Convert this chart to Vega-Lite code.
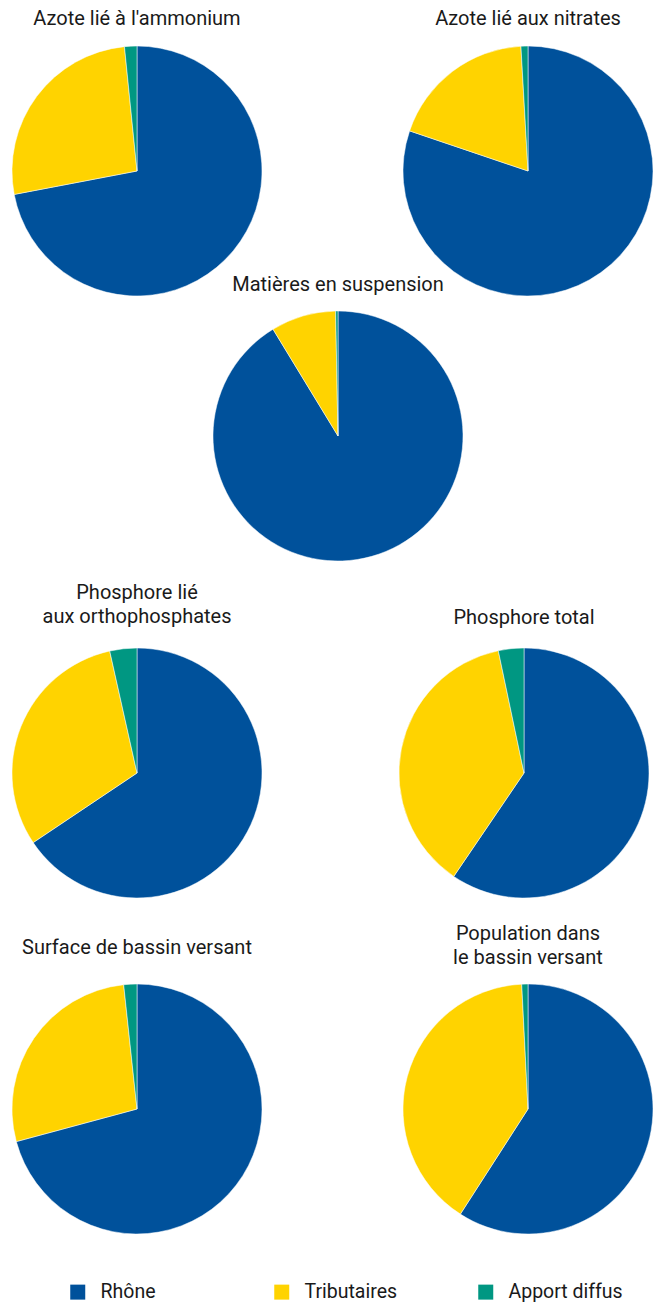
{
  "$schema": "https://vega.github.io/schema/vega-lite/v6.json",
  "padding": {"left": 11, "top": 9, "right": 0, "bottom": 0},
  "background": "white",
  "data": {"values": [
    {"indicateur": "Azote lié à l'ammonium", "source": "Rhône", "ordre": 1, "part": 72.0},
    {"indicateur": "Azote lié à l'ammonium", "source": "Tributaires", "ordre": 2, "part": 26.4},
    {"indicateur": "Azote lié à l'ammonium", "source": "Apport diffus", "ordre": 3, "part": 1.6},
    {"indicateur": "Azote lié aux nitrates", "source": "Rhône", "ordre": 1, "part": 80.2},
    {"indicateur": "Azote lié aux nitrates", "source": "Tributaires", "ordre": 2, "part": 18.9},
    {"indicateur": "Azote lié aux nitrates", "source": "Apport diffus", "ordre": 3, "part": 0.9},
    {"indicateur": "Matières en suspension", "source": "Rhône", "ordre": 1, "part": 91.3},
    {"indicateur": "Matières en suspension", "source": "Tributaires", "ordre": 2, "part": 8.4},
    {"indicateur": "Matières en suspension", "source": "Apport diffus", "ordre": 3, "part": 0.3},
    {"indicateur": "Phosphore lié aux orthophosphates", "source": "Rhône", "ordre": 1, "part": 65.6},
    {"indicateur": "Phosphore lié aux orthophosphates", "source": "Tributaires", "ordre": 2, "part": 30.9},
    {"indicateur": "Phosphore lié aux orthophosphates", "source": "Apport diffus", "ordre": 3, "part": 3.5},
    {"indicateur": "Phosphore total", "source": "Rhône", "ordre": 1, "part": 59.5},
    {"indicateur": "Phosphore total", "source": "Tributaires", "ordre": 2, "part": 37.2},
    {"indicateur": "Phosphore total", "source": "Apport diffus", "ordre": 3, "part": 3.3},
    {"indicateur": "Surface de bassin versant", "source": "Rhône", "ordre": 1, "part": 70.8},
    {"indicateur": "Surface de bassin versant", "source": "Tributaires", "ordre": 2, "part": 27.5},
    {"indicateur": "Surface de bassin versant", "source": "Apport diffus", "ordre": 3, "part": 1.7},
    {"indicateur": "Population dans le bassin versant", "source": "Rhône", "ordre": 1, "part": 59.1},
    {"indicateur": "Population dans le bassin versant", "source": "Tributaires", "ordre": 2, "part": 40.1},
    {"indicateur": "Population dans le bassin versant", "source": "Apport diffus", "ordre": 3, "part": 0.8}
  ]},
  "vconcat": [
    {
      "vconcat": [
        {
          "vconcat": [
            {
              "hconcat": [
                {
                  "width": 250, "height": 250,
                  "title": {"text": "Azote lié à l'ammonium", "offset": 16},
                  "transform": [{"filter": {"field": "indicateur", "equal": "Azote lié à l'ammonium"}}],
                  "mark": {"type": "arc", "outerRadius": 125, "stroke": "#ffffff", "strokeWidth": 0.5},
                  "encoding": {
                    "theta": {"field": "part", "type": "quantitative", "stack": true},
                    "color": {"field": "source", "type": "nominal", "scale": {"domain": ["Rhône", "Tributaires", "Apport diffus"], "range": ["#00519b", "#ffd300", "#009782"]}, "legend": {"title": null}},
                    "order": {"field": "ordre", "type": "quantitative"}
                  }
                },
                {
                  "width": 250, "height": 250,
                  "title": {"text": "Azote lié aux nitrates", "offset": 16},
                  "transform": [{"filter": {"field": "indicateur", "equal": "Azote lié aux nitrates"}}],
                  "mark": {"type": "arc", "outerRadius": 125, "stroke": "#ffffff", "strokeWidth": 0.5},
                  "encoding": {
                    "theta": {"field": "part", "type": "quantitative", "stack": true},
                    "color": {"field": "source", "type": "nominal", "scale": {"domain": ["Rhône", "Tributaires", "Apport diffus"], "range": ["#00519b", "#ffd300", "#009782"]}, "legend": {"title": null}},
                    "order": {"field": "ordre", "type": "quantitative"}
                  }
                }
              ],
              "spacing": 139
            },
            {
              "hconcat": [
                {
                  "width": 190, "height": 10,
                  "mark": {"type": "rect", "opacity": 0},
                  "encoding": {}
                },
                {
                  "width": 250, "height": 250,
                  "title": {"text": "Matières en suspension", "offset": 15},
                  "transform": [{"filter": {"field": "indicateur", "equal": "Matières en suspension"}}],
                  "mark": {"type": "arc", "outerRadius": 125, "stroke": "#ffffff", "strokeWidth": 0.5},
                  "encoding": {
                    "theta": {"field": "part", "type": "quantitative", "stack": true},
                    "color": {"field": "source", "type": "nominal", "scale": {"domain": ["Rhône", "Tributaires", "Apport diffus"], "range": ["#00519b", "#ffd300", "#009782"]}, "legend": {"title": null}},
                    "order": {"field": "ordre", "type": "quantitative"}
                  }
                }
              ],
              "spacing": 10
            }
          ],
          "spacing": -22
        },
        {
          "hconcat": [
            {
              "width": 250, "height": 250,
              "title": {"text": ["Phosphore lié", "aux orthophosphates"], "offset": 20},
              "transform": [{"filter": {"field": "indicateur", "equal": "Phosphore lié aux orthophosphates"}}],
              "mark": {"type": "arc", "outerRadius": 125, "stroke": "#ffffff", "strokeWidth": 0.5},
              "encoding": {
                "theta": {"field": "part", "type": "quantitative", "stack": true},
                "color": {"field": "source", "type": "nominal", "scale": {"domain": ["Rhône", "Tributaires", "Apport diffus"], "range": ["#00519b", "#ffd300", "#009782"]}, "legend": {"title": null}},
                "order": {"field": "ordre", "type": "quantitative"}
              }
            },
            {
              "width": 250, "height": 250,
              "title": {"text": "Phosphore total", "offset": 19},
              "transform": [{"filter": {"field": "indicateur", "equal": "Phosphore total"}}],
              "mark": {"type": "arc", "outerRadius": 125, "stroke": "#ffffff", "strokeWidth": 0.5},
              "encoding": {
                "theta": {"field": "part", "type": "quantitative", "stack": true},
                "color": {"field": "source", "type": "nominal", "scale": {"domain": ["Rhône", "Tributaires", "Apport diffus"], "range": ["#00519b", "#ffd300", "#009782"]}, "legend": {"title": null}},
                "order": {"field": "ordre", "type": "quantitative"}
              }
            }
          ],
          "spacing": 135
        }
      ],
      "spacing": 20
    },
    {
      "hconcat": [
        {
          "width": 250, "height": 250,
          "title": {"text": "Surface de bassin versant", "offset": 25},
          "transform": [{"filter": {"field": "indicateur", "equal": "Surface de bassin versant"}}],
          "mark": {"type": "arc", "outerRadius": 125, "stroke": "#ffffff", "strokeWidth": 0.5},
          "encoding": {
            "theta": {"field": "part", "type": "quantitative", "stack": true},
            "color": {"field": "source", "type": "nominal", "scale": {"domain": ["Rhône", "Tributaires", "Apport diffus"], "range": ["#00519b", "#ffd300", "#009782"]}, "legend": {"title": null}},
            "order": {"field": "ordre", "type": "quantitative"}
          }
        },
        {
          "width": 250, "height": 250,
          "title": {"text": ["Population dans", "le bassin versant"], "offset": 15},
          "transform": [{"filter": {"field": "indicateur", "equal": "Population dans le bassin versant"}}],
          "mark": {"type": "arc", "outerRadius": 125, "stroke": "#ffffff", "strokeWidth": 0.5},
          "encoding": {
            "theta": {"field": "part", "type": "quantitative", "stack": true},
            "color": {"field": "source", "type": "nominal", "scale": {"domain": ["Rhône", "Tributaires", "Apport diffus"], "range": ["#00519b", "#ffd300", "#009782"]}, "legend": {"title": null}},
            "order": {"field": "ordre", "type": "quantitative"}
          }
        }
      ],
      "spacing": 139
    }
  ],
  "spacing": 24,
  "config": {
    "view": {"stroke": null},
    "title": {"font": "Roboto", "fontSize": 20, "fontWeight": "normal", "color": "#1a1a1a", "lineHeight": 24.5, "anchor": "middle"},
    "legend": {
      "orient": "bottom",
      "direction": "horizontal",
      "symbolType": "square",
      "symbolSize": 225,
      "symbolStrokeWidth": 0,
      "labelFont": "Roboto",
      "labelFontSize": 19.5,
      "labelColor": "#1a1a1a",
      "labelOffset": 13,
      "gridAlign": "all",
      "columnPadding": 57,
      "padding": 56,
      "offset": -9
    }
  }
}
